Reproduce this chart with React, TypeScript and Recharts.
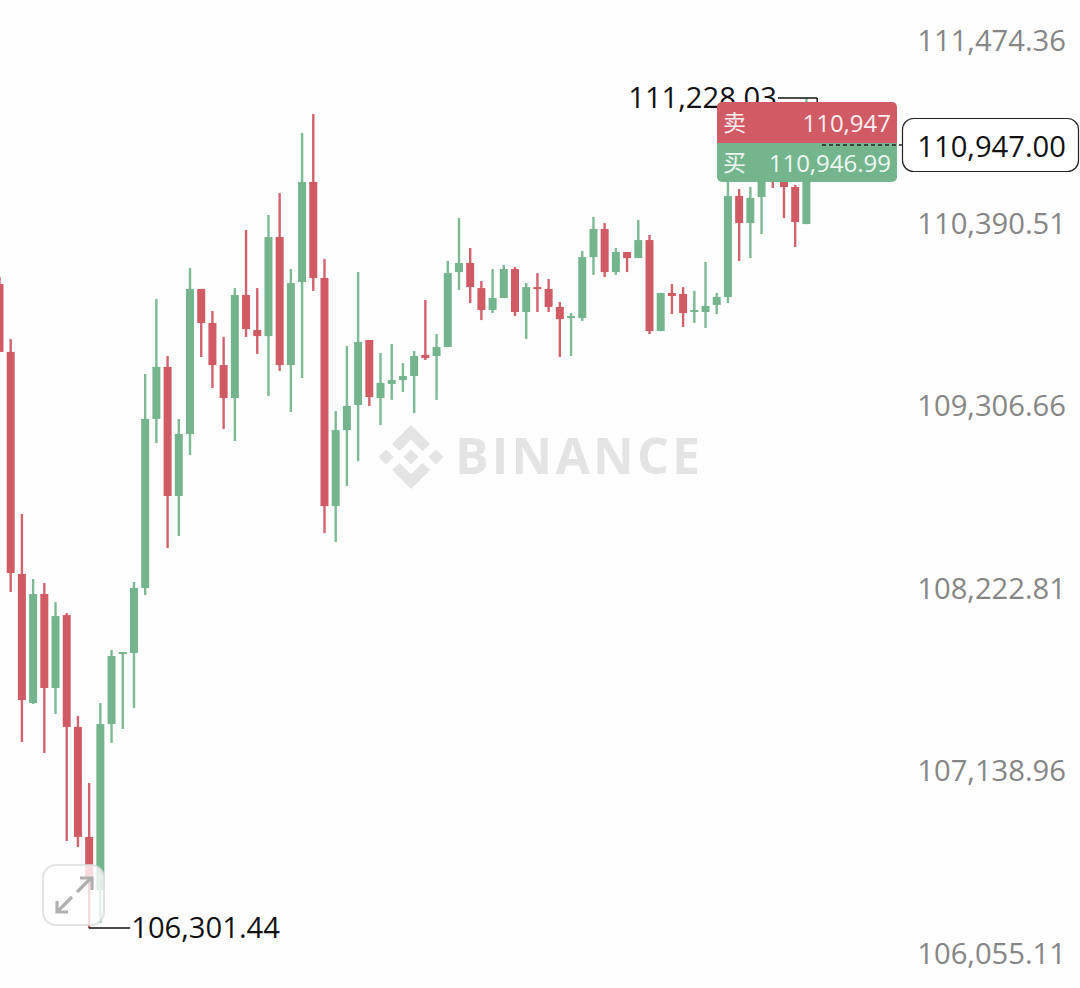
import React from "react";
import { ComposedChart, Bar, XAxis, YAxis, ReferenceLine, ReferenceDot } from "recharts";

const UP = "#75b58e";
const DOWN = "#d05b64";
const FONT = "'Open Sans', sans-serif";

// candle slots, oldest first
const slots = [
  0, 1, 2, 3, 4, 5, 6, 7, 8, 9, 10, 11, 12, 13, 14, 15, 16, 17, 18, 19, 20, 21, 22, 23, 24,
  25, 26, 27, 28, 29, 30, 31, 32, 33, 34, 35, 36, 37, 38, 39, 40, 41, 42, 43, 44, 45, 46, 47, 48, 49,
  50, 51, 52, 53, 54, 55, 56, 57, 58, 59, 60, 61, 62, 63, 64, 65, 66, 67, 68, 69, 70, 71, 72,
];
const opens = [
  110124, 109721, 108403, 107637, 108284, 107726, 108159, 107495, 106842, 106527, 107512, 107928, 107934, 108320, 109323, 109632, 108866, 109234, 110095, 109893, 109643, 109447, 110059, 109851, 109815,
  110403, 109643, 110136, 110730, 110160, 108806, 109257, 109406, 109792, 109447, 109531, 109554, 109578, 109703, 109697, 109750, 110195, 110249, 110100, 109970, 110041, 110213, 109958, 110106, 110095,
  109988, 109922, 109922, 110284, 110451, 110195, 110314, 110278, 110385, 109845, 110071, 110065, 109958, 109958, 110000, 110047, 110647, 110486, 110641, 110789, 110771, 110700, 110480,
];
const highs = [
  110166, 109798, 108759, 108373, 108349, 108236, 108171, 107560, 107162, 107637, 107952, 107940, 108355, 109590, 110035, 109697, 109323, 110219, 110095, 109964, 109810, 110100, 110445, 110100, 110534,
  110664, 110213, 111021, 111133, 110273, 109370, 109756, 110195, 109792, 109715, 109768, 109655, 109726, 110029, 109827, 110261, 110516, 110338, 110142, 110213, 110237, 110225, 110130, 110189, 110154,
  110017, 109952, 110320, 110522, 110486, 110338, 110314, 110504, 110415, 110071, 110124, 110106, 110083, 110255, 110071, 110730, 110688, 110700, 110860, 110801, 110801, 110712, 111228.03,
];
const lows = [
  109721, 108296, 107406, 107631, 107340, 107572, 106818, 106782, 106301.44, 106331, 107400, 107483, 107607, 108278, 109180, 108557, 108628, 109109, 109691, 109507, 109263, 109192, 109810, 109709, 109459,
  109608, 109364, 109566, 110083, 108646, 108593, 108925, 109073, 109400, 109287, 109436, 109483, 109358, 109673, 109436, 109750, 110089, 110011, 109910, 109952, 110041, 109934, 109798, 109958, 109958,
  109691, 109697, 109905, 110178, 110166, 110178, 110195, 110278, 109827, 109845, 109946, 109869, 109893, 109863, 109946, 110011, 110261, 110278, 110421, 110694, 110516, 110344, 110480,
];
const closes = [
  109721, 108409, 107655, 108284, 107726, 108153, 107495, 106842, 106604, 107512, 107916, 107940, 108320, 109323, 109632, 108866, 109234, 110095, 109893, 109643, 109447, 110059, 109857, 109815, 110403,
  109643, 110130, 110730, 110160, 108806, 109257, 109400, 109780, 109453, 109537, 109554, 109578, 109697, 109685, 109750, 110189, 110249, 110106, 109970, 110041, 110213, 109958, 110106, 110095, 109988,
  109916, 109934, 110284, 110451, 110195, 110314, 110278, 110385, 109845, 110071, 110053, 109952, 109970, 109994, 110047, 110647, 110486, 110635, 110801, 110730, 110700, 110492, 110947,
];

const priceTicks = [111474.36, 110390.51, 109306.66, 108222.81, 107138.96, 106055.11];
const highPrice = 111228.03;
const highTickEnd = 111204;
const lowPrice = 106301.44;
const askPrice = 110947;
const bidPrice = 110946.99;

const data = slots.map((slot, i) => ({
  slot,
  open: opens[i],
  high: highs[i],
  low: lows[i],
  close: closes[i],
  range: [lows[i], highs[i]],
}));

const fmt = (v: number) =>
  v.toLocaleString("en-US", { minimumFractionDigits: 2, maximumFractionDigits: 2 });

// wick and body from the bar's low-high rectangle
const Candle = (props: any) => {
  const { x, y, width, height, payload } = props;
  const color = payload.close >= payload.open ? UP : DOWN;
  const perPrice = height / (payload.high - payload.low);
  const top = y + (payload.high - Math.max(payload.open, payload.close)) * perPrice;
  const bodyH = Math.abs(payload.open - payload.close) * perPrice;
  const cx = x + width / 2;
  return (
    <g>
      <rect x={cx - 1.2} y={y} width={2.4} height={height} fill={color} fillOpacity={0.95} />
      <rect x={x} y={top} width={width} height={Math.max(bodyH, 2)} fill={color} />
    </g>
  );
};

const PriceTick = (props: any) => {
  const { y, payload } = props;
  return (
    <text x={1066} y={y - 16.5} textAnchor="end" dominantBaseline="central" fontSize={29.2} fontFamily={FONT} fill="#868686">
      {fmt(payload.value)}
    </text>
  );
};

const Watermark = () => (
  <svg width={1080} height={988} style={{ position: "absolute", left: 0, top: 0 }}>
    <g fill="#e4e4e4" transform="translate(411 457)">
      <polygon points="0,-7.5 7.5,0 0,7.5 -7.5,0" />
      <polygon points="-25,-7.5 -17.5,0 -25,7.5 -32.5,0" />
      <polygon points="25,-7.5 32.5,0 25,7.5 17.5,0" />
      <polygon points="0,-32 19,-13 11.5,-6 0,-17.5 -11.5,-6 -19,-13" />
      <polygon points="0,32 19,13 11.5,6 0,17.5 -11.5,6 -19,13" />
    </g>
    <text x={455} y={474} fontSize={50} fontWeight={700} fontFamily={FONT} fill="#e4e4e4" letterSpacing={3.2}>
      BINANCE
    </text>
  </svg>
);

const Overlay = () => (
  <svg width={1080} height={988} style={{ position: "absolute", left: 0, top: 0 }}>
    {/* bid / ask panel */}
    <path d="M717 107a5 5 0 0 1 5-5h170a5 5 0 0 1 5 5v36h-180z" fill={DOWN} />
    <path d="M717 143h180v34a5 5 0 0 1-5 5h-170a5 5 0 0 1-5-5z" fill={UP} />
    <text x={723} y={121} dominantBaseline="central" fontSize={23} fontFamily="'Noto Sans CJK SC'" fill="#fbeef0">卖</text>
    <text x={723} y={161} dominantBaseline="central" fontSize={23} fontFamily="'Noto Sans CJK SC'" fill="#eef8f2">买</text>
    <text x={891} y={122} textAnchor="end" dominantBaseline="central" fontSize={24} fontFamily={FONT} fill="#fbeef0">
      {askPrice.toLocaleString("en-US")}
    </text>
    <text x={891} y={162} textAnchor="end" dominantBaseline="central" fontSize={24} fontFamily={FONT} fill="#eef8f2">
      {fmt(bidPrice)}
    </text>
    {/* last price */}
    <line x1={822} x2={902} y1={145} y2={145} stroke="#222" strokeWidth={1.5} strokeDasharray="4 3" />
    <rect x={902.5} y={118.5} width={176} height={53} rx={11} fill="#fff" stroke="#222" strokeWidth={1.2} />
    <text x={1066} y={145.5} textAnchor="end" dominantBaseline="central" fontSize={29.2} fontFamily={FONT} fill="#111">
      {fmt(askPrice)}
    </text>
    {/* expand button */}
    <rect x={43} y={865} width={61} height={60} rx={13} fill="#fff" fillOpacity={0.78} stroke="#dcdcdc" strokeOpacity={0.8} strokeWidth={2} />
    <g stroke="#b0b0b0" strokeWidth={3.2} fill="none">
      <path d="M72 897L58 911" />
      <path d="M57 901V912H68" />
      <path d="M77 892L91 878" />
      <path d="M80 878H92V890" />
    </g>
  </svg>
);

export default function App() {
  return (
    <div style={{ position: "absolute", left: 0, top: 0, width: 1080, height: 988, background: "#fefefe", overflow: "hidden" }}>
      <Watermark />
      <div style={{ position: "absolute", left: 0, top: 0 }}>
        <ComposedChart width={1081} height={988} data={data} margin={{ top: 0, right: 0, bottom: 0, left: 0 }}>
          <XAxis dataKey="slot" type="number" domain={[0.081, 96.45]} allowDataOverflow hide />
          <YAxis
            orientation="right"
            width={1}
            type="number"
            domain={[105945.28, 111810.05]}
            ticks={priceTicks}
            interval={0}
            axisLine={false}
            tickLine={false}
            tick={<PriceTick />}
          />
          <Bar dataKey="range" barSize={8} shape={<Candle />} isAnimationActive={false} />
          <ReferenceLine segment={[{ x: 8, y: lowPrice }, { x: 11.7, y: lowPrice }]} stroke="#111" strokeWidth={1.4} />
          <ReferenceDot
            x={11.7}
            y={lowPrice}
            r={0}
            label={{ value: fmt(lowPrice), position: "right", offset: 1, fontSize: 29.2, fontFamily: FONT, fill: "#111" }}
          />
          <ReferenceLine segment={[{ x: 69.5, y: highPrice }, { x: 73, y: highPrice }]} stroke="#111" strokeWidth={1.4} />
          <ReferenceLine segment={[{ x: 73, y: highPrice }, { x: 73, y: highTickEnd }]} stroke="#111" strokeWidth={1.4} />
          <ReferenceDot
            x={69.5}
            y={highPrice}
            r={0}
            label={{ value: fmt(highPrice), position: "left", offset: 1, fontSize: 29.2, fontFamily: FONT, fill: "#111" }}
          />
        </ComposedChart>
      </div>
      <Overlay />
    </div>
  );
}
